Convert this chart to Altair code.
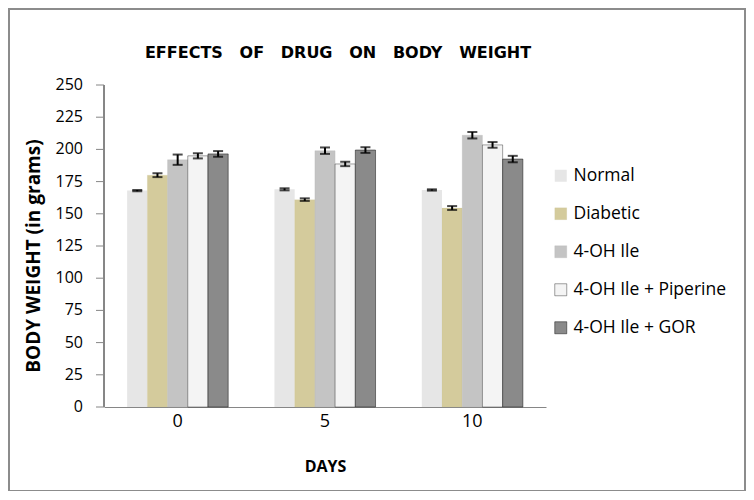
import altair as alt
import pandas as pd

days = ["0", "5", "10"]
groups = ["Normal", "Diabetic", "4-OH Ile", "4-OH Ile + Piperine", "4-OH Ile + GOR"]
means = {
    "Normal": [168, 169, 168.5],
    "Diabetic": [180, 161, 154.5],
    "4-OH Ile": [192, 199, 211],
    "4-OH Ile + Piperine": [195, 188.7, 203.5],
    "4-OH Ile + GOR": [196.5, 199.5, 192.5],
}
errs = {
    "Normal": [0.5, 0.8, 0.5],
    "Diabetic": [1.5, 1.0, 1.5],
    "4-OH Ile": [4.0, 2.5, 2.5],
    "4-OH Ile + Piperine": [2.0, 1.7, 2.2],
    "4-OH Ile + GOR": [2.2, 2.2, 2.5],
}
y_ticks = [0, 25, 50, 75, 100, 125, 150, 175, 200, 225, 250]
y_title = "BODY WEIGHT (in grams)"
title_text = "EFFECTS\u00a0\u00a0 OF\u00a0\u00a0 DRUG\u00a0\u00a0 ON\u00a0\u00a0 BODY\u00a0\u00a0 WEIGHT"
fills = ["#e6e6e6", "#d4cb9c", "#c4c4c4", "#f4f4f4", "#8a8a8a"]
strokes = ["#e6e6e6", "#bdb486", "#b0b0b0", "#000000", "#111111"]
stroke_w = [0, 0.5, 0.5, 1.2, 2.2]

rows = []
for g in groups:
    for i, d in enumerate(days):
        m, e = means[g][i], errs[g][i]
        rows.append({"day": d, "group": g, "value": m, "lo": m - e, "hi": m + e})
df = pd.DataFrame(rows)

FONT = "Open Sans"

xaxis = alt.Axis(title="DAYS", labelAngle=0, ticks=False, labelFontSize=18,
                 labelPadding=5, titleFontSize=16, titleFontWeight="bold",
                 titlePadding=28, domainColor="#868686", labelColor="#000000",
                 titleColor="#000000", labelFont=FONT, titleFont=FONT)
xscale = alt.Scale(paddingInner=0.314, paddingOuter=0.157)
yscale = alt.Scale(domain=[0, 250], nice=False)

x = alt.X("day:N", sort=days, scale=xscale, axis=xaxis)
xo = alt.XOffset("group:N", sort=groups)

base = alt.Chart(df)

bars = base.mark_bar().encode(
    x=x, xOffset=xo,
    y=alt.Y("value:Q", scale=yscale, axis=None),
    fill=alt.Fill("group:N", sort=groups,
                  scale=alt.Scale(domain=groups, range=fills),
                  legend=alt.Legend(title=None, orient="none", legendX=448, legendY=82,
                                    labelFontSize=17.5, labelFont=FONT, labelColor="#000000",
                                    symbolType="square", symbolSize=144,
                                    rowPadding=19, labelOffset=4, symbolStrokeWidth=1)),
    stroke=alt.Stroke("group:N", sort=groups,
                      scale=alt.Scale(domain=groups, range=strokes), legend=None),
    strokeWidth=alt.StrokeWidth("group:N", sort=groups,
                                scale=alt.Scale(domain=groups, range=stroke_w), legend=None),
)

rule = base.mark_rule(color="#000000", strokeWidth=2).encode(
    x=x, xOffset=xo, y=alt.Y("lo:Q", scale=yscale, axis=None), y2="hi:Q")
cap_hi = base.mark_tick(color="#000000", thickness=2, size=10, orient="horizontal").encode(
    x=x, xOffset=xo, y=alt.Y("hi:Q", scale=yscale, axis=None))
cap_lo = base.mark_tick(color="#000000", thickness=2, size=10, orient="horizontal").encode(
    x=x, xOffset=xo, y=alt.Y("lo:Q", scale=yscale, axis=None))

# y axis drawn from the tick list
tdf = pd.DataFrame({"v": y_ticks})
ytick_marks = alt.Chart(tdf).mark_rule(color="#868686", strokeWidth=1).encode(
    y=alt.Y("v:Q", scale=yscale, axis=None), x=alt.value(-8), x2=alt.value(0))
ytick_labels = alt.Chart(tdf).mark_text(align="right", baseline="middle", fontSize=16,
                                        font=FONT, color="#000000").encode(
    y=alt.Y("v:Q", scale=yscale, axis=None), x=alt.value(-21), text="v:Q")
ydomain = alt.Chart(tdf).mark_rule(color="#868686", strokeWidth=1).encode(
    x=alt.value(0), y=alt.value(0), y2=alt.value(322))

one = pd.DataFrame({"t": [title_text], "yt": [y_title]})
ytitle = alt.Chart(one).mark_text(fontSize=19, fontWeight="bold", font=FONT, angle=270,
                                  color="#000000", align="center",
                                  baseline="alphabetic").encode(
    x=alt.value(-64), y=alt.value(171), text="yt:N")
title = alt.Chart(one).mark_text(fontSize=16, fontWeight="bold", font="DejaVu Sans",
                                 color="#000000", align="center", baseline="alphabetic").encode(
    x=alt.value(234), y=alt.value(-27), text="t:N")

frame = alt.Chart(one).mark_rect(
    fill=None, stroke="#8c8c8c", strokeWidth=2).encode(
    x=alt.value(-95), x2=alt.value(641), y=alt.value(-76), y2=alt.value(406))

chart = alt.layer(bars, rule, cap_hi, cap_lo, ytick_marks, ytick_labels, ydomain,
                  ytitle, title, frame).properties(
    width=442, height=322,
    background="#ffffff",
    autosize=alt.AutoSizeParams(type="none"),
    padding={"left": 96, "top": 77, "right": 200, "bottom": 84},
).configure_view(strokeWidth=0, stroke="transparent")

chart.save("out.html", embed_options={"renderer": "svg", "actions": False})
